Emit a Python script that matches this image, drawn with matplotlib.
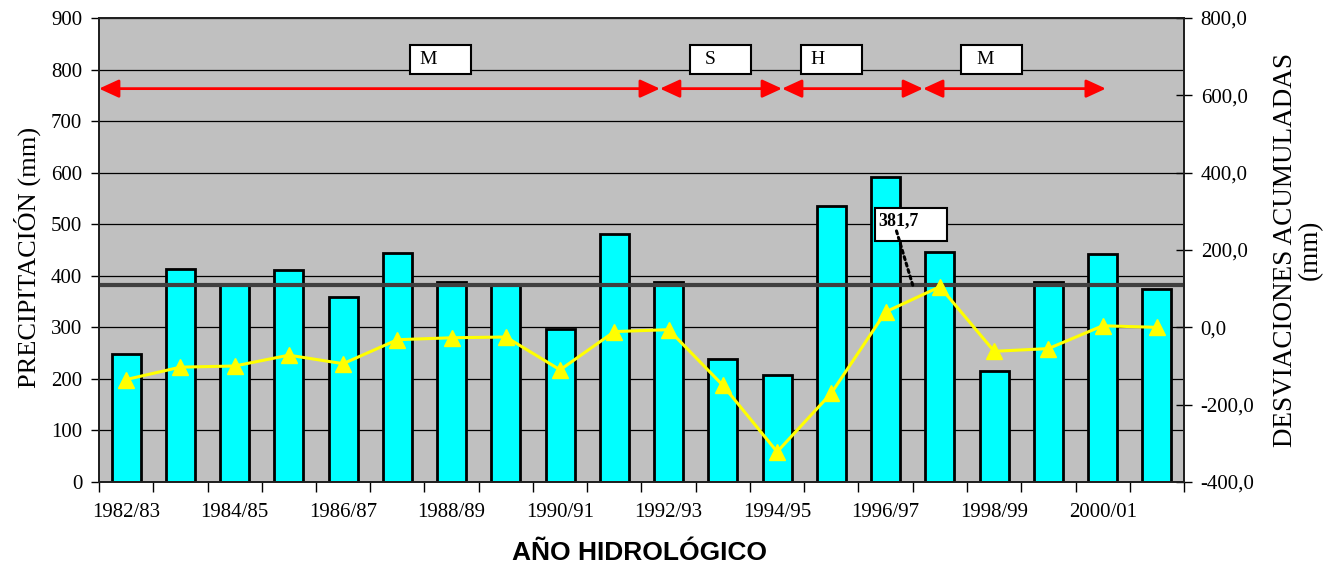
import matplotlib
matplotlib.use("Agg")
import matplotlib.pyplot as plt
from matplotlib.patches import Rectangle
import numpy as np

# ---------------- data ----------------
years = ["1982/83", "1983/84", "1984/85", "1985/86", "1986/87", "1987/88", "1988/89",
         "1989/90", "1990/91", "1991/92", "1992/93", "1993/94", "1994/95", "1995/96",
         "1996/97", "1997/98", "1998/99", "1999/00", "2000/01", "2001/02"]
precip = [248, 413, 385, 411, 359, 444, 387, 384, 296, 482,
          387, 238, 208, 535, 592, 446, 216, 388, 442, 375]
cum_dev = [-135, -103, -100, -72, -94, -32, -27, -25, -110, -11,
           -6, -150, -322, -170, 40, 105, -62, -55, 4, 0]
mean_precip = 381.7
mean_label = "381,7"

# periods: (label, start, end) in category units
periods = [("M", -0.5, 9.84), ("S", 9.84, 12.09), ("H", 12.09, 14.69), ("M", 14.69, 18.06)]
period_box_left = [5.23, 10.39, 12.44, 15.39]
period_text_left = [5.40, 10.67, 12.62, 15.68]
period_arrow_y = 763

left_ticks = list(range(0, 901, 100))
right_ticks = list(range(-400, 801, 200))

# ---------------- figure ----------------
W, H = 1340, 571
fig = plt.figure(figsize=(W / 100, H / 100), dpi=100)
ax = fig.add_axes([99 / W, 1 - 482 / H, (1184 - 99) / W, (482 - 18) / H])
ax.set_facecolor("#C0C0C0")

serif = ["Liberation Serif", "DejaVu Serif"]

x = np.arange(len(years))
ax.set_xlim(-0.5, len(years) - 0.5)
ax.set_ylim(0, 900)

# gridlines
for v in left_ticks:
    ax.axhline(v, color="black", lw=0.9, zorder=1)

ax.bar(x, precip, width=0.53, color="#00FFFF", edgecolor="black", linewidth=2.0, zorder=2)

# mean line
ax.axhline(mean_precip, color="#404040", lw=3.0, zorder=3)

# x ticks
ax.set_xticks(x[::2])
ax.set_xticklabels(years[::2], fontsize=15, family=serif)
ax.set_xticks(np.arange(-0.5, len(years)), minor=True)
ax.tick_params(axis="x", which="major", length=0, pad=15)
ax.tick_params(axis="x", which="minor", length=7, direction="out", width=1)

ax.set_yticks(left_ticks)
ax.set_yticklabels([str(v) for v in left_ticks], fontsize=15, family=serif)
ax.tick_params(axis="y", length=6, direction="out", width=1, pad=6)

for s in ax.spines.values():
    s.set_linewidth(1.3)
    s.set_color("#202020")

# period arrows
for (lab, a, b) in periods:
    ax.annotate("", xy=(b, period_arrow_y), xytext=(a, period_arrow_y),
                arrowprops=dict(arrowstyle="<|-|>,head_length=1.2,head_width=0.55",
                                color="red", lw=2.0, shrinkA=0, shrinkB=0),
                zorder=6)

# period label boxes
for (lab, a, b), bl, tl in zip(periods, period_box_left, period_text_left):
    ax.add_patch(Rectangle((bl, 792), 1.12, 55.5, facecolor="white", edgecolor="black",
                           lw=1.5, zorder=7))
    ax.text(tl, 820, lab, fontsize=14, family=serif, ha="left", va="center", zorder=8)

# mean annotation
ax.add_patch(Rectangle((13.797, 467), 1.33, 64, facecolor="white", edgecolor="black",
                       lw=1.5, zorder=7))
ax.text(13.86, 507, mean_label, fontsize=13, family=serif, fontweight="bold",
        ha="left", va="center", zorder=8)
ax.annotate("", xy=(14.5, mean_precip), xytext=(14.2, 487),
            arrowprops=dict(arrowstyle="-", linestyle=(0, (1, 1.2)), color="black", lw=2.2,
                            shrinkA=0, shrinkB=0), zorder=8)

# secondary axis
ax2 = ax.twinx()
ax2.set_ylim(-400, 800)
ax2.plot(x, cum_dev, color="#FFFF00", lw=2.2, marker="^", markersize=11,
         markerfacecolor="#FFFF00", markeredgecolor="#FFFF00", zorder=5)
ax2.set_yticks(right_ticks)
ax2.set_yticklabels([f"{v:.1f}".replace(".", ",") for v in right_ticks], fontsize=15, family=serif)
ax2.tick_params(axis="y", length=12, direction="inout", width=1, pad=6)
for s in ax2.spines.values():
    s.set_linewidth(1.3)
    s.set_color("#202020")

# labels
fig.text(27 / W, 1 - 257 / H, "PRECIPITACIÓN (mm)", rotation=90, ha="center", va="center",
         fontsize=19, family=serif)
fig.text(1298 / W, 1 - 250 / H, "DESVIACIONES ACUMULADAS\n(mm)", rotation=90, ha="center",
         va="center", fontsize=19.5, family=serif, multialignment="center", linespacing=1.0)
fig.text(639 / W, 1 - 553 / H, "AÑO HIDROLÓGICO", ha="center", va="center", fontsize=19,
         family=["Liberation Sans", "DejaVu Sans"], fontweight="bold")

fig.savefig("out.png", dpi=100)
